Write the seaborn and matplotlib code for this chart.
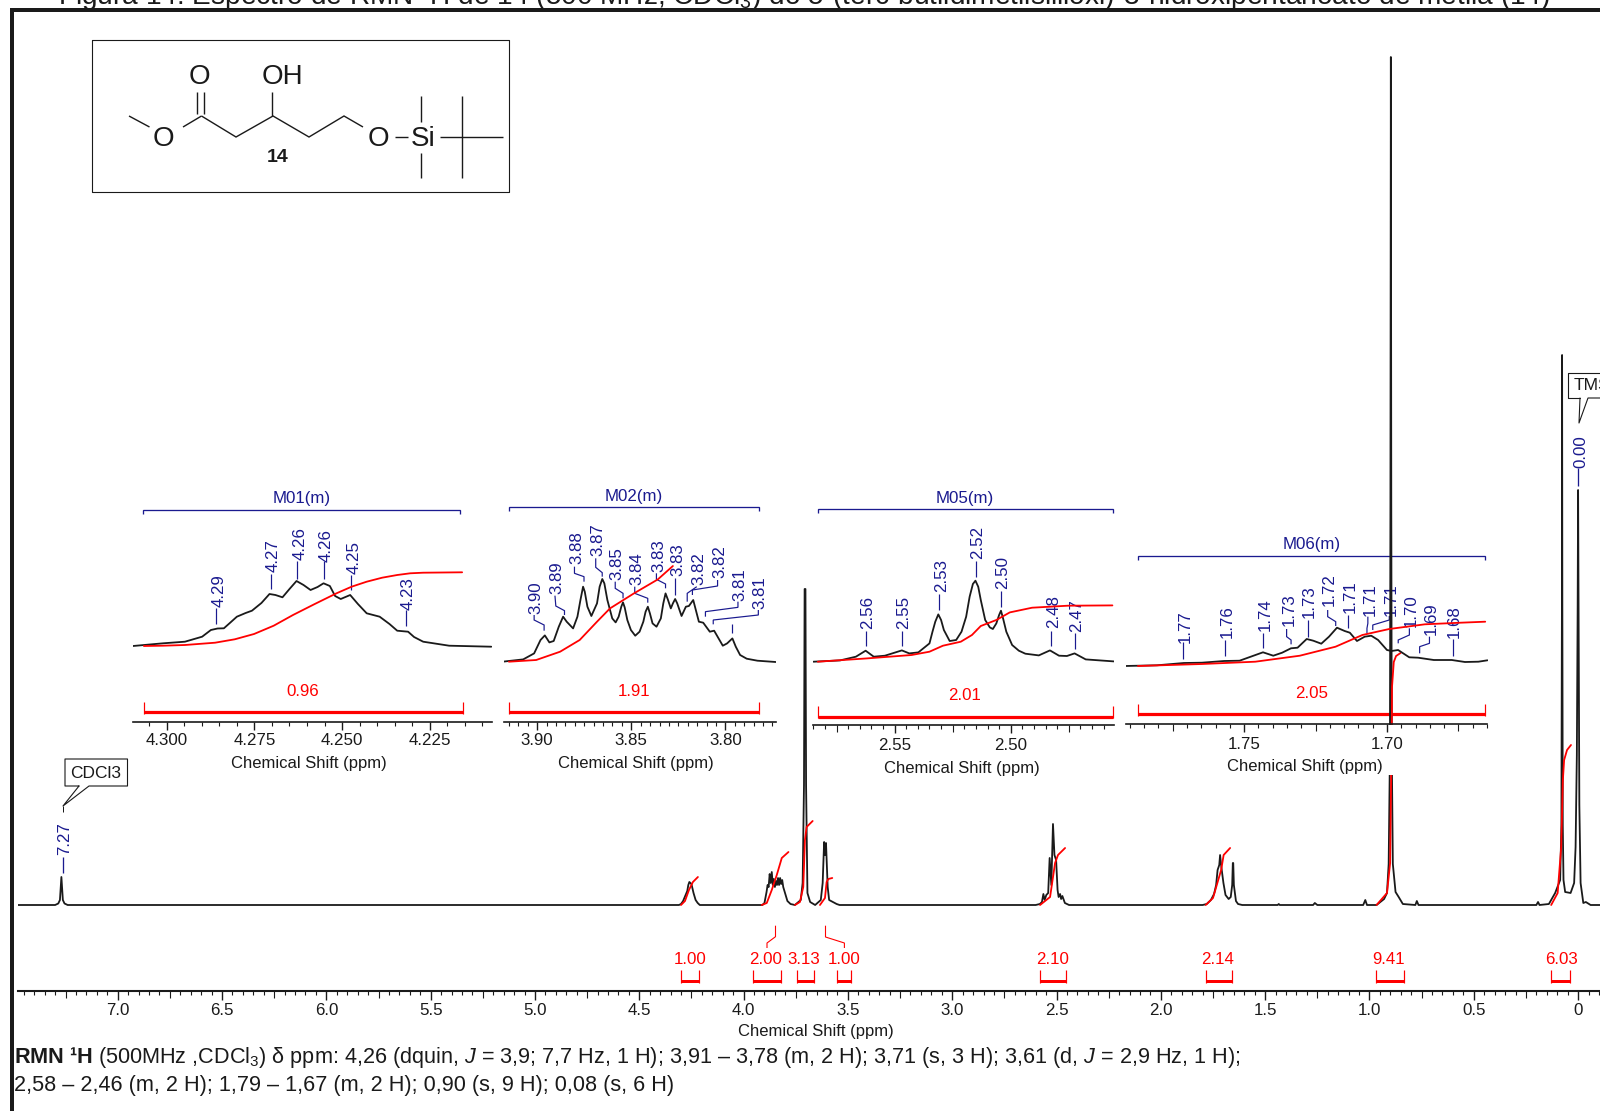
import numpy as np
import matplotlib
matplotlib.use("Agg")
import matplotlib.pyplot as plt
import seaborn as sns

# ---------- DATA (ppm, intensity) ----------
main_ppm = [7.478,7.30,7.285,7.277,7.2725,7.270,7.2675,7.263,7.255,7.24,
 4.31,4.30,4.29,4.28,4.27,4.265,4.26,4.25,4.24,4.23,4.22,4.21,
 3.91,3.90,3.89,3.885,3.88,3.875,3.87,3.865,3.86,3.855,3.85,3.845,3.84,3.835,3.83,3.825,3.82,3.815,3.81,3.80,3.79,3.775,3.754,
 3.726,3.717,3.7105,3.7075,3.7035,3.7005,3.694,3.681,3.657,
 3.63,3.621,3.614,3.61,3.605,3.597,3.59,3.554,3.54,
 2.60,2.58,2.57,2.563,2.557,2.549,2.54,2.533,2.525,2.517,2.51,2.502,2.495,2.49,2.483,2.478,2.472,2.46,2.44,
 1.80,1.78,1.76,1.745,1.735,1.728,1.72,1.716,1.71,1.70,1.69,1.675,1.665,1.658,1.655,1.653,1.65,1.64,1.63,1.61,
 1.44,1.435,1.43,1.27,1.262,1.25,1.03,1.02,1.012,
 0.966,0.93,0.916,0.908,0.902,0.8995,0.8975,0.8955,0.893,0.888,0.875,0.86,0.84,0.78,0.773,0.765,
 0.20,0.192,0.185,0.14,0.11,0.086,0.080,0.0775,0.0767,0.0755,0.0735,0.07,0.062,0.036,0.019,0.012,0.006,0.002,0.0,-0.002,-0.006,-0.012,-0.025,-0.037,-0.06,-0.105]
main_int = [0,0,1.5,5,20,28,20,5,1.5,0,
 0,1,4,9,14,20,23,21,12,5,2,0,
 0,2,13,20,18,31,22,33,20,26,18,24,20,27,20,27,21,25,18,11,4,1,0,
 5,22,120,316,316,120,12,3,0,
 5,22,63,50,62,18,5,1,0,
 0,1,3,11,5,10,12,47,20,81,50,45,15,8,11,6,9,2,0,
 0,1,5,11,20,35,40,50,38,22,10,6,8,20,42,42,20,4,1,0,
 0,1,0,0,2,0,0,5,0,
 0,6,12,41,150,400,848,400,150,41,13,8,1,0,4,0,
 0,3,0,1,12,25,80,300,550,300,80,25,13,12,22,58,150,300,415,300,100,22,2,3,0,0]

int_ppm = [[4.300,4.281,4.262,4.243,4.219],
           [3.913,3.889,3.865,3.841,3.817,3.785],
           [3.754,3.73,3.714,3.706,3.698,3.669],
           [3.634,3.61,3.602,3.594,3.575],
           [2.579,2.531,2.507,2.493,2.459],
           [1.785,1.750,1.711,1.699,1.668],
           [0.966,0.916,0.901,0.8925,0.892,0.8835,0.8725,0.851],
           [0.129,0.098,0.081,0.073,0.067,0.053,0.034]]
int_val = [[0,4,15,23,28],
           [0,2,15,30,47,53],
           [0,3,18,65,78,84],
           [0,7,23,26,27],
           [0,8,42,50,57],
           [0,7,35,50,57],
           [0,12,42,192,218,243,249,252],
           [0,12,58,125,145,155,160]]
main_int_labels = ["1.00","2.00","3.13","1.00","2.10","2.14","9.41","6.03"]
main_ticks = [7.0,6.5,6.0,5.5,5.0,4.5,4.0,3.5,3.0,2.5,2.0,1.5,1.0,0.5,0.0]
main_ticklabels = ["7.0","6.5","6.0","5.5","5.0","4.5","4.0","3.5","3.0","2.5","2.0","1.5","1.0","0.5","0"]

m01_ppm = [4.3096,4.301,4.2948,4.2899,4.2874,4.2855,4.2837,4.282,4.280,4.2775,4.2757,4.273,4.2707,4.269,4.267,4.265,4.263,4.261,4.259,4.257,4.2553,4.2535,4.252,4.2504,4.2477,4.2455,4.243,4.2393,4.2365,4.2343,4.2312,4.2295,4.2269,4.2195,4.2075]
m01_int = [0,2.7,4.3,9.3,16,17.5,17.7,23,29.3,33,35.3,43,52,51,48.7,57,65,61,56,59,62.7,60,50,47,51,42,32.7,29.3,22,15.3,14.3,9,4.3,0.3,-0.7]
m01_rppm = [4.3065,4.301,4.2948,4.2862,4.2806,4.2751,4.2695,4.264,4.2578,4.2516,4.2473,4.243,4.2386,4.2343,4.2306,4.2269,4.2158]
m01_rint = [0,0.3,1,3.3,6.7,12,20.3,31,42,52.7,59.3,64.3,68.3,71,72.7,73.3,73.7]

m02_ppm = [3.9184,3.9074,3.9016,3.8982,3.8959,3.8935,3.8912,3.8885,3.8862,3.8843,3.8809,3.8786,3.877,3.8756,3.8747,3.8733,3.8712,3.8682,3.8668,3.8654,3.8643,3.8627,3.8601,3.8583,3.8567,3.8553,3.8544,3.8535,3.8521,3.8502,3.8479,3.8456,3.8436,3.8424,3.8412,3.8401,3.8387,3.8366,3.8343,3.833,3.8318,3.8306,3.829,3.8279,3.8267,3.8256,3.8233,3.821,3.8194,3.8171,3.8141,3.8118,3.8083,3.806,3.8014,3.7991,3.7963,3.7945,3.7922,3.7887,3.783,3.7733]
m02_int = [0,2.3,8.3,21.7,26.3,19.3,20.7,35,45,40,33.3,45,61.7,75,70,55,45.7,58.3,75,82.7,78.3,61.7,43.3,39.3,45,55,59.3,54.3,41.7,31.7,26,30,40,50,55,48.3,38.3,35,43.3,58.3,68.3,62.3,53.3,58.3,62.7,58.3,45.7,55,55.7,61.7,40,39,30,31,16,18.3,23.3,15,6.7,3,1,-0.3]
m02_rppm = [3.915,3.9005,3.8878,3.8774,3.8682,3.8613,3.8486,3.8359,3.8279]
m02_rint = [0,1.7,10,21.7,40,53.3,68.3,82.3,95.7]

m05_ppm = [2.585,2.5735,2.5667,2.5625,2.559,2.5542,2.5469,2.5437,2.5398,2.535,2.5337,2.5325,2.5312,2.53,2.5288,2.5263,2.5235,2.5212,2.5192,2.5177,2.5163,2.5152,2.514,2.5129,2.511,2.509,2.5077,2.5062,2.505,2.5042,2.5033,2.5019,2.4994,2.4965,2.4937,2.4879,2.4831,2.4792,2.4758,2.4725,2.4677,2.4556]
m05_int = [0,1.3,5,11,5,6,11.3,8.3,9.3,18.3,30,40,47.3,41.7,31.7,20.7,21.7,30,45,65,77.7,81,75,61.7,41.7,34.3,32.7,38.3,46.7,51,43.3,30,16.7,11,8,6.3,11.3,6,5.7,8.3,2.3,0.3]
m05_rppm = [2.5831,2.5619,2.5427,2.535,2.5292,2.5215,2.5167,2.5129,2.5062,2.5004,2.4908,2.4754,2.4562]
m05_rint = [0,3.3,6.7,10,16,20,26.7,35.7,41.7,49.3,54,56,56.3]

m06_ppm = [1.7917,1.7805,1.7711,1.7648,1.757,1.7516,1.7477,1.7434,1.7398,1.7367,1.7336,1.7313,1.7281,1.7258,1.723,1.7203,1.7175,1.7148,1.713,1.7105,1.7078,1.7055,1.7031,1.70,1.6984,1.6961,1.6922,1.6891,1.6836,1.6773,1.6727,1.668,1.6648]
m06_int = [0,0.7,3,3.3,5,5.3,9.3,13.7,10.3,13.3,17.7,18.3,27,25.3,22.3,29.3,38.3,35,33.3,25,29.3,30.3,26,16,15,16,8.7,8.3,6,6,4,4.3,5.7]
m06_rppm = [1.7872,1.7648,1.7461,1.7305,1.718,1.7086,1.6992,1.6867,1.6742,1.6656]
m06_rint = [0,2,4.3,10.3,19.3,31,37,41.7,43.3,44.3]

m01_labels = ["4.29","4.27","4.26","4.26","4.25","4.23"]
m02_labels = ["3.90","3.89","3.88","3.87","3.85","3.84","3.83","3.83","3.82","3.82","3.81","3.81"]
m05_labels = ["2.56","2.55","2.53","2.52","2.50","2.48","2.47"]
m06_labels = ["1.77","1.76","1.74","1.73","1.73","1.72","1.71","1.71","1.71","1.70","1.69","1.68"]

TITLE = "Figura 14: Espectro de RMN ¹H de 14 (500 MHz, CDCl$_3$) do 5-(terc-butildimetilsililoxi)-3-hidroxipentanoato de metila (14)"

# ---------- STYLE ----------
sns.set_theme(style="white")
plt.rcParams["font.family"] = ["Liberation Sans", "DejaVu Sans"]
plt.rcParams["mathtext.fontset"] = "custom"
plt.rcParams["mathtext.rm"] = "Liberation Sans"
plt.rcParams["mathtext.it"] = "Liberation Sans:italic"
plt.rcParams["mathtext.bf"] = "Liberation Sans:bold"
plt.rcParams["mathtext.default"] = "regular"
plt.rcParams.update({"text.color": "k", "axes.labelcolor": "k", "axes.edgecolor": "k",
                     "xtick.color": "k", "xtick.labelcolor": "k"})
BLUE = "#1a1a8f"; RED = "#ff0000"
W, H = 1600, 1111
FS = 12.2
SPEC_LW = 1.3
fig = plt.figure(figsize=(16, 11.11), dpi=100, facecolor="white")

def rect(x0, x1, ytop, ybot):
    return [x0/W, 1-ybot/H, (x1-x0)/W, (ybot-ytop)/H]

# overlay below the main spectrum, in pixel coordinates
under = fig.add_axes([0, 0, 1, 1], zorder=1)
under.set_xlim(0, W); under.set_ylim(H, 0); under.axis("off")

def line(xs, ys, c="k", lw=1.0, ax=under, **kw):
    ax.plot(xs, ys, color=c, lw=lw*0.72, solid_capstyle="butt", solid_joinstyle="miter", **kw)

def txt(x, y, s, c="k", fs=FS, ax=under, **kw):
    kw.setdefault("ha", "center"); kw.setdefault("va", "center")
    ax.text(x, y, s, color=c, fontsize=fs, **kw)

# frame
line([11.5, 11.5], [8, H], lw=4)
line([9.5, W], [10, 10], lw=4)
# title and description
txt(58, 4, TITLE, fs=20.2, ha="left", va="baseline")
txt(14, 1057, r"$\mathbf{RMN\ ¹H}$ (500MHz ,CDCl$_3$) δ ppm: 4,26 (dquin, $\mathit{J}$ = 3,9; 7,7 Hz, 1 H); 3,91 – 3,78 (m, 2 H); 3,71 (s, 3 H); 3,61 (d, $\mathit{J}$ = 2,9 Hz, 1 H);", fs=15.6, ha="left")
txt(14, 1085, "2,58 – 2,46 (m, 2 H); 1,79 – 1,67 (m, 2 H); 0,90 (s, 9 H); 0,08 (s, 6 H)", fs=15.6, ha="left")

# molecule box
under.plot([92, 509, 509, 92, 92], [40, 40, 192, 192, 40], color="k", lw=0.8)
bonds = [[(129,116),(149.5,127)],[(183,127),(201.5,116)],[(201.5,116),(236,137),(273,116),(309,137),(344,116),(363,127)],
         [(395,137),(408,137)],[(421,96),(421,122)],[(421,153),(421,178)],[(440,137),(502.5,137)],[(462,96),(462,178)],
         [(196.5,92),(196.5,114)],[(204,92),(204,114)],[(272,92),(272,116)]]
for b in bonds:
    line([p[0] for p in b], [p[1] for p in b], lw=1.4)
for x, y, s in [(163,139,"O"),(199,77,"O"),(282,77,"OH"),(378,139,"O"),(423.5,139,"Si")]:
    txt(x, y, s, fs=20)
txt(278, 157, "14", fs=14, fontweight="bold")

# solvent and reference callouts
under.plot([79,65,65,127.5,127.5,89,63,79], [786,786,759,759,786,786,806,786], color="k", lw=0.8)
line([63,63],[806,812],lw=1)
txt(96, 773, "CDCl3", fs=12.5)
txt(64.5, 839, "7.27", c=BLUE, rotation=90)
line([62.5,62.5],[857,873],c=BLUE,lw=1.3)
under.plot([1580,1568,1568,W+5], [398,398,373,373], color="k", lw=0.8)
under.plot([W+5,1588,1579,1580], [398,398,423,398], color="k", lw=0.8)
txt(1574, 386, "TMS", fs=12.5, ha="left", clip_on=True)
txt(1581, 452, "0.00", c=BLUE, rotation=90)
line([1578,1578],[468,486],c=BLUE,lw=1.3)

# main integration brackets
spans = [(681,699,690),(752.5,780.6,766),(797.4,813.8,804),(837,851,844),(1040,1066,1053),(1205.6,1232,1218),(1375.5,1404,1389),(1551,1570,1561)]
for (a, b, c), s in zip(spans, main_int_labels):
    line([a,b],[981,981],c=RED,lw=3)
    line([a,a],[970,982.5],c=RED,lw=1.2)
    line([b,b],[970,982.5],c=RED,lw=1.2)
    txt(c, 959, s, c=RED)
line([775.5,775.5,767,767],[925.7,936.7,943,948],c=RED,lw=1.1)
line([825.5,825.5,844.4,844.4],[925.7,937,943,948],c=RED,lw=1.1)

# inset decorations
def z3(zx, zy): return 120+zx/2.306, 480+zy/3
def z4(zx, zy): return 800+zx/2.24, 480+zy/3

def deco(zf, bl, label, lab_xy, red_l, red_lab, red_txt, bar_zy, end_zy, xl_x, xl_zy, bk_zy):
    x0, _ = zf(bl[0], 0); x1, _ = zf(bl[1], 0)
    _, yb = zf(0, bk_zy)
    line([x0,x0,x1,x1],[yb+4,yb,yb,yb+4],c=BLUE,lw=1.3)
    lx, ly = zf(*lab_xy); txt(lx, ly, label, c=BLUE, fs=FS)
    r0, yr = zf(red_l[0], bar_zy); r1, _ = zf(red_l[1], bar_zy); _, ye = zf(0, end_zy)
    line([r0,r1],[yr,yr],c=RED,lw=3.2)
    line([r0,r0],[ye,yr+1.5],c=RED,lw=1.2); line([r1,r1],[ye,yr+1.5],c=RED,lw=1.2)
    lx, ly = zf(*red_lab); txt(lx, ly, red_txt, c=RED, fs=FS)
    if xl_x is not None:
        lx, ly = zf(xl_x, xl_zy); txt(lx, ly, "Chemical Shift (ppm)", fs=FS-0.2)

deco(z3,(52,785),"M01(m)",(418,57),(56,790),(422,633),"0.96",697,665,436,850,90)
deco(z3,(897,1473),"M02(m)",(1185,50),(897,1473),(1185,633),"1.91",697,665,1190,850,82)
deco(z4,(40,700),"M05(m)",(370,55),(40,700),(368,645),"2.01",710,678,362,864,87)

def peaklabels(zf, labels, tx, tz, leaders):
    for s, x, (a, b), lead in zip(labels, tx, tz, leaders):
        px, py = zf(x, (a+b)/2)
        txt(px+2, py, s, c=BLUE, rotation=90)
        pts = [zf(*p) for p in lead]
        line([p[0] for p in pts],[p[1] for p in pts],c=BLUE,lw=1.2)

peaklabels(z3, m01_labels, [225,348,410,471,535,660],
    [(283,382),(178,278),(140,240),(147,245),(182,282),(292,388)],
    [[(222,385),(222,432)],[(348,282),(348,328)],[(408,243),(408,298)],[(470,243),(470,298)],[(533,285),(533,330)],[(660,390),(660,438)]])
peaklabels(z3, m02_labels, [955,1003,1048,1097,1142,1187,1237,1283,1330,1378,1425,1472],
    [(305,400),(245,343),(155,250),(130,228),(203,300),(218,315),(178,275),(190,290),(218,315),(195,293),(265,360),(293,385)],
    [[(955,405),(955,420),(978,435),(978,452)],[(1003,347),(1005,378),(1025,392),(1025,405)],[(1048,260),(1048,280),(1070,290),(1070,305)],
     [(1097,235),(1097,262),(1112,278),(1112,290)],[(1142,305),(1142,325),(1160,340),(1160,355)],[(1187,320),(1187,340),(1217,355),(1217,368)],
     [(1237,280),(1237,298),(1258,312),(1258,325)],[(1280,295),(1280,345)],[(1330,320),(1308,340),(1308,365)],
     [(1378,300),(1378,318),(1320,330),(1320,345)],[(1425,365),(1425,382),(1350,395),(1350,410)],[(1472,390),(1472,405),(1368,420),(1368,433)]])
a = z3(1412,433); b = z3(1412,460); line([a[0],b[0]],[a[1],b[1]],c=BLUE,lw=1.2)
peaklabels(z4, m05_labels, [147,228,312,394,450,563,615],
    [(347,447),(347,445),(238,338),(138,235),(228,325),(347,445),(357,455)],
    [[(147,452),(147,498)],[(228,452),(228,497)],[(312,343),(312,390)],[(394,243),(394,290)],[(450,333),(450,380)],[(563,452),(563,497)],[(615,460),(615,507)]])
peaklabels(z4, m06_labels, [858,952,1037,1092,1137,1182,1227,1272,1320,1365,1410,1462],
    [(395,483),(378,470),(355,453),(342,437),(317,412),(280,378),(300,397),(310,405),(310,405),(345,440),(370,465),(378,473)],
    [[(858,487),(858,537)],[(952,480),(952,527)],[(1037,458),(1037,503)],[(1090,447),(1090,470),(1100,480),(1100,493)],[(1137,420),(1137,470)],
     [(1182,390),(1182,410),(1200,425),(1200,438)],[(1227,405),(1227,445)],[(1272,410),(1272,430),(1270,445),(1270,460)],
     [(1320,408),(1320,420),(1283,435),(1283,450)],[(1365,445),(1365,465),(1340,480),(1340,490)],[(1410,470),(1410,490),(1388,500),(1388,520)],[(1462,478),(1462,527)]])
deco(z4,(757,1535),"M06(m)",(1147,195),(757,1535),(1145,640),"2.05",703,672,None,None,228)

# ---------- MAIN SPECTRUM ----------
ax = fig.add_axes(rect(18, W, 30, 991), zorder=2)
ax.patch.set_alpha(0)
sns.lineplot(x=main_ppm, y=main_int, ax=ax, color="k", lw=SPEC_LW, estimator=None, sort=False, legend=False)
for p, v in zip(int_ppm, int_val):
    sns.lineplot(x=p, y=v, ax=ax, color=RED, lw=SPEC_LW, estimator=None, sort=False, legend=False)
for s in ("top", "left", "right"):
    ax.spines[s].set_visible(False)
ax.spines["bottom"].set_linewidth(1.5)
ax.set_yticks([])
ax.set_xticks(main_ticks); ax.set_xticklabels(main_ticklabels)
minor = np.arange(-2, 150)*0.05
ax.set_xticks(minor, minor=True)
ax.set_xlim(7.478, -0.105); ax.set_ylim(-86, 875)
ax.tick_params(axis="x", which="major", length=6.5, width=1, pad=2, labelsize=FS, bottom=True)
ax.tick_params(axis="x", which="minor", length=2.9, width=0.8, bottom=True)
for loc, t in zip(ax.xaxis.get_minorticklocs(), ax.xaxis.get_minor_ticks()):
    if abs(loc/0.25 - round(loc/0.25)) < 1e-6:
        t.tick1line.set_markersize(5)
ax.set_xlabel("Chemical Shift (ppm)", fontsize=FS-0.2, labelpad=0)
ax.xaxis.set_label_coords((816-18)/(W-18), -(1031.7-991)/961, transform=ax.transAxes)
ax.xaxis.label.set_verticalalignment("center")

# white mask below the M06 scale
mask = fig.add_axes([0, 0, 1, 1], zorder=3)
mask.set_xlim(0, W); mask.set_ylim(H, 0); mask.axis("off")
mask.fill_between([1125, 1488], [725, 725], [775, 775], color="white", lw=0)
txt(*z4(1130, 860), "Chemical Shift (ppm)", fs=FS-0.2, ax=mask)

# ---------- INSETS ----------
def inset(x0, x1, yaxis, base, xlim, ppm, val, rp, rv, majors, labels, medium=None, step=0.005, pad=2):
    a = fig.add_axes(rect(x0, x1, yaxis-300, yaxis), zorder=4)
    a.patch.set_alpha(0)
    sns.lineplot(x=ppm, y=val, ax=a, color="k", lw=SPEC_LW, estimator=None, sort=False, legend=False)
    sns.lineplot(x=rp, y=rv, ax=a, color=RED, lw=SPEC_LW, estimator=None, sort=False, legend=False)
    for s in ("top", "left", "right"):
        a.spines[s].set_visible(False)
    a.spines["bottom"].set_linewidth(1.2)
    a.set_yticks([])
    a.set_xticks(majors); a.set_xticklabels(labels)
    n0 = int(np.ceil(xlim[1]/step)); n1 = int(np.floor(xlim[0]/step))
    a.set_xticks(np.arange(n0, n1+1)*step, minor=True)
    a.set_xlim(*xlim); a.set_ylim(-(yaxis-base), 300-(yaxis-base))
    a.tick_params(axis="x", which="major", length=5.8, width=1, pad=pad, labelsize=FS, bottom=True)
    a.tick_params(axis="x", which="minor", length=2.9, width=0.8, bottom=True)
    if medium:
        for loc, t in zip(a.xaxis.get_minorticklocs(), a.xaxis.get_minor_ticks()):
            if abs(loc/medium - round(loc/medium)) < 1e-6:
                t.tick1line.set_markersize(4.7)
    a.set_xlabel("")
    return a

inset(133, 491.6, 721.7, 646, (4.3096, 4.2074), m01_ppm, m01_int, m01_rppm, m01_rint,
      [4.300,4.275,4.250,4.225], ["4.300","4.275","4.250","4.225"])
inset(503.8, 775.7, 721.7, 661.7, (3.9177, 3.7733), m02_ppm, m02_int, m02_rppm, m02_rint,
      [3.90,3.85,3.80], ["3.90","3.85","3.80"])
inset(813.4, 1113.8, 725, 661.7, (2.585, 2.4556), m05_ppm, m05_int, m05_rppm, m05_rint,
      [2.55,2.50], ["2.55","2.50"], medium=0.025, pad=3.5)
inset(1125.9, 1487.5, 724, 666, (1.7914, 1.6648), m06_ppm, m06_int, m06_rppm, m06_rint,
      [1.75,1.70], ["1.75","1.70"], medium=0.025, pad=3.5)

fig.savefig("out.png", dpi=100, facecolor="white")
